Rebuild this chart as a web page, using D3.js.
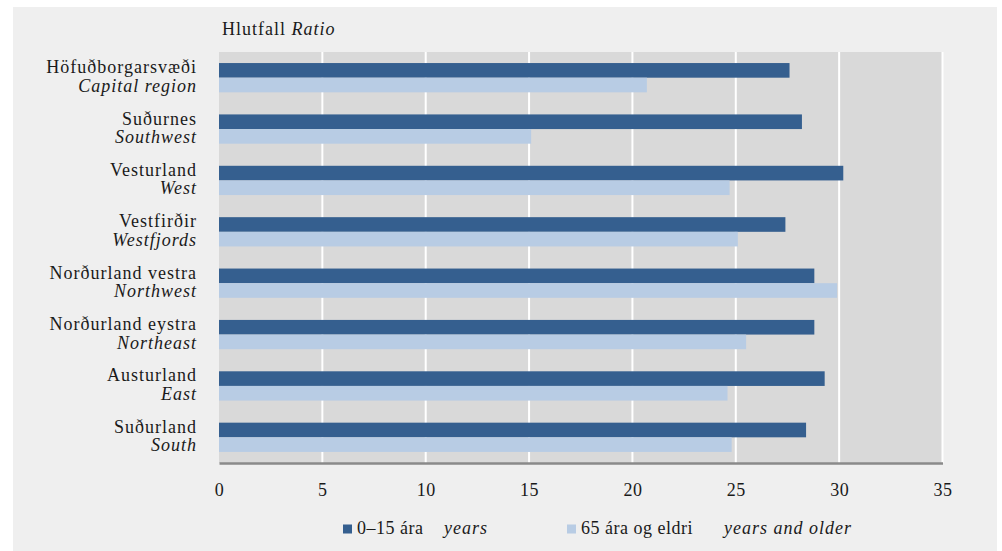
<!DOCTYPE html>
<html><head><meta charset="utf-8">
<script src="https://cdn.jsdelivr.net/npm/d3@7"></script>
<style>body{margin:0;background:#fff}svg{display:block}</style>
</head><body>
<script>
const regionsIs = ["Höfuðborgarsvæði","Suðurnes","Vesturland","Vestfirðir","Norðurland vestra","Norðurland eystra","Austurland","Suðurland"];
const regionsEn = ["Capital region","Southwest","West","Westfjords","Northwest","Northeast","East","South"];
const young = [27.6, 28.2, 30.2, 27.4, 28.8, 28.8, 29.3, 28.4];
const old = [20.7, 15.1, 24.7, 25.1, 29.9, 25.5, 24.6, 24.8];
const xTicks = [0,5,10,15,20,25,30,35];
const seriesIs = ["0–15 ára","65 ára og eldri"];
const seriesEn = ["years","years and older"];
const colors = ["#355f8f","#b8cce4"];

const W=1002,H=551;
const font = "'Liberation Serif', 'Times New Roman', serif";
const ink = "#1a1a1a";
const svg = d3.select("body").append("svg").attr("width",W).attr("height",H)
  .style("font-family",font);
svg.append("rect").attr("x",13).attr("y",7).attr("width",984).attr("height",544).attr("fill","#efefef");

const x = d3.scaleLinear().domain([0,35]).range([219,942.5]);
const y = d3.scaleBand().domain(d3.range(regionsIs.length)).range([52,463]).paddingInner(0.43).paddingOuter(0.215);
const sub = d3.scaleBand().domain([0,1]).range([0,y.bandwidth()]);

svg.append("rect").attr("x",x(0)).attr("y",52).attr("width",x(35)-x(0)).attr("height",411).attr("fill","#d9d9d9");
svg.append("g").selectAll("line").data(xTicks.slice(1)).join("line")
  .attr("x1",d=>x(d)).attr("x2",d=>x(d)).attr("y1",52).attr("y2",463)
  .attr("stroke","#fff").attr("stroke-width",2);

const data = regionsIs.map((r,i)=>({i, vals:[young[i], old[i]]}));
const g = svg.append("g").selectAll("g").data(data).join("g")
  .attr("transform",d=>`translate(0,${y(d.i)})`);
g.selectAll("rect").data(d=>d.vals.map((v,k)=>({v,k}))).join("rect")
  .attr("x",x(0)).attr("y",d=>sub(d.k)).attr("width",d=>x(d.v)-x(0)).attr("height",sub.bandwidth())
  .attr("fill",d=>colors[d.k]);

// axis
const ax = svg.append("g").attr("transform","translate(0,463)")
  .call(d3.axisBottom(x).tickValues(xTicks).tickSize(0));
ax.select(".domain").attr("stroke","#8a8a8a").attr("stroke-width",2.5);
ax.selectAll("text").attr("font-family",font).attr("font-size",18).attr("fill",ink)
  .attr("y",33).attr("dy",0).style("letter-spacing","0.5px");

// category labels
const lab = svg.append("g").selectAll("g").data(data).join("g")
  .style("letter-spacing","1px");
lab.append("text").attr("x",197).attr("y",d=>y(d.i)+y.bandwidth()/2-4.5)
  .attr("text-anchor","end").attr("font-size",18).attr("fill",ink).text(d=>regionsIs[d.i]);
lab.append("text").attr("x",197).attr("y",d=>y(d.i)+y.bandwidth()/2+14)
  .attr("text-anchor","end").attr("font-size",18).attr("font-style","italic").attr("fill",ink).text(d=>regionsEn[d.i]);

// title
const t = svg.append("text").attr("x",222).attr("y",35).attr("font-size",18).attr("fill",ink)
  .style("letter-spacing","1px");
t.append("tspan").text("Hlutfall ");
t.append("tspan").attr("font-style","italic").text("Ratio");

// legend
const legX = [343, 567], enX = [444, 724];
seriesIs.forEach((s,k)=>{
  svg.append("rect").attr("x",legX[k]).attr("y",524.5).attr("width",9).attr("height",9).attr("fill",colors[k]);
  svg.append("text").attr("x",legX[k]+14).attr("y",534).attr("font-size",18).attr("fill",ink)
    .style("letter-spacing","0.5px").text(s);
  svg.append("text").attr("x",enX[k]).attr("y",534).attr("font-size",18).attr("font-style","italic").attr("fill",ink)
    .style("letter-spacing","1px").text(seriesEn[k]);
});
</script>
</body></html>
